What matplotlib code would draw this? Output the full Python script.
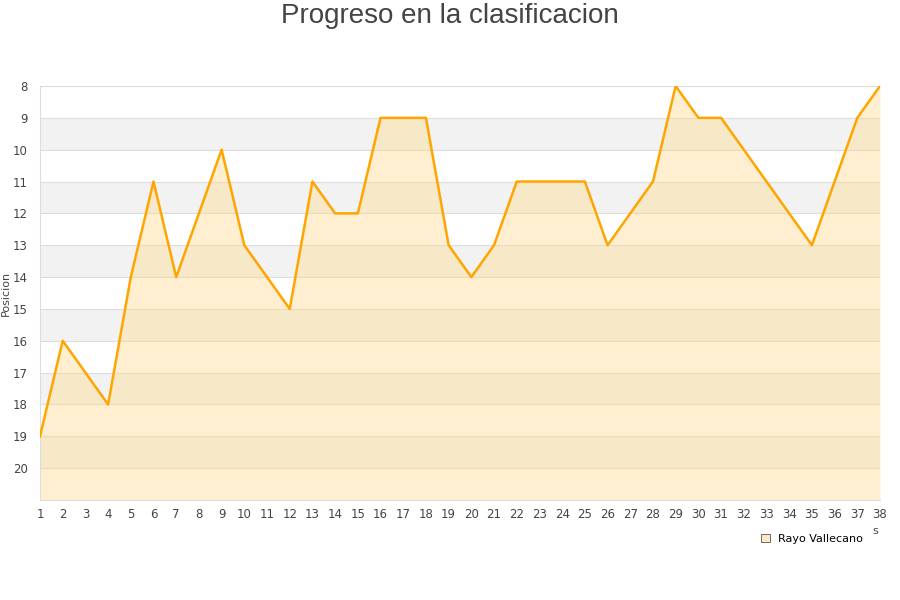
import matplotlib
matplotlib.use("Agg")
import matplotlib.pyplot as plt
from matplotlib.patches import Patch

jornadas = list(range(1, 39))
posiciones = [19, 16, 17, 18, 14, 11, 14, 12, 10, 13, 14, 15, 11, 12, 12, 9, 9, 9, 13, 14,
              13, 11, 11, 11, 11, 13, 12, 11, 8, 9, 9, 10, 11, 12, 13, 11, 9, 8]
y_ticks = list(range(8, 21))
equipo = "Rayo Vallecano"

fig = plt.figure(figsize=(9, 6), dpi=100)
ax = fig.add_axes([40/900, 1-500/600, 840/900, 414/600])

ax.set_xlim(1, 38)
ax.set_ylim(21, 8)

# alternating bands
for y0 in range(9, 21, 2):
    ax.axhspan(y0, y0 + 1, color="#f2f2f2", zorder=0, lw=0)
for y in range(8, 22):
    ax.axhline(y, color="#dddddd", lw=0.8, zorder=1)

ax.fill_between(jornadas, posiciones, 21, color="#ffd98a", alpha=0.4, lw=0, zorder=2)
ax.plot(jornadas, posiciones, color="#ffa500", lw=1.8, zorder=3)

ax.set_xticks(jornadas)
ax.set_xticklabels([str(j) for j in jornadas])
ax.set_yticks(y_ticks)
ax.tick_params(axis="both", length=0, labelsize=8.5, labelcolor="#444444")
ax.tick_params(axis="x", pad=6)
ax.tick_params(axis="y", pad=9)
for s in ["left", "bottom", "top", "right"]:
    ax.spines[s].set_color("#dddddd")
    ax.spines[s].set_linewidth(0.8)
ax.spines["right"].set_visible(False)

ax.set_ylabel("Posicion", fontsize=8, color="#444444", labelpad=-2)
ax.yaxis.set_label_coords(-0.035, 0.5)

fig.text(0.5, 1-16/600, "Progreso en la clasificacion", ha="center", va="center",
         fontsize=20, color="#444444", family=["Liberation Sans", "DejaVu Sans"])

fig.text(875/900, 1-531/600, "s", ha="center", va="center", fontsize=8, color="#444444")

handle = Patch(facecolor="#fde9c6", edgecolor="#555555", lw=0.6)
fig.legend([handle], [equipo], loc="center", bbox_to_anchor=(812/900, 1-539/600),
           frameon=False, fontsize=8, handlelength=0.8, handleheight=0.8, handletextpad=0.8)

fig.savefig("out.png", dpi=100)
